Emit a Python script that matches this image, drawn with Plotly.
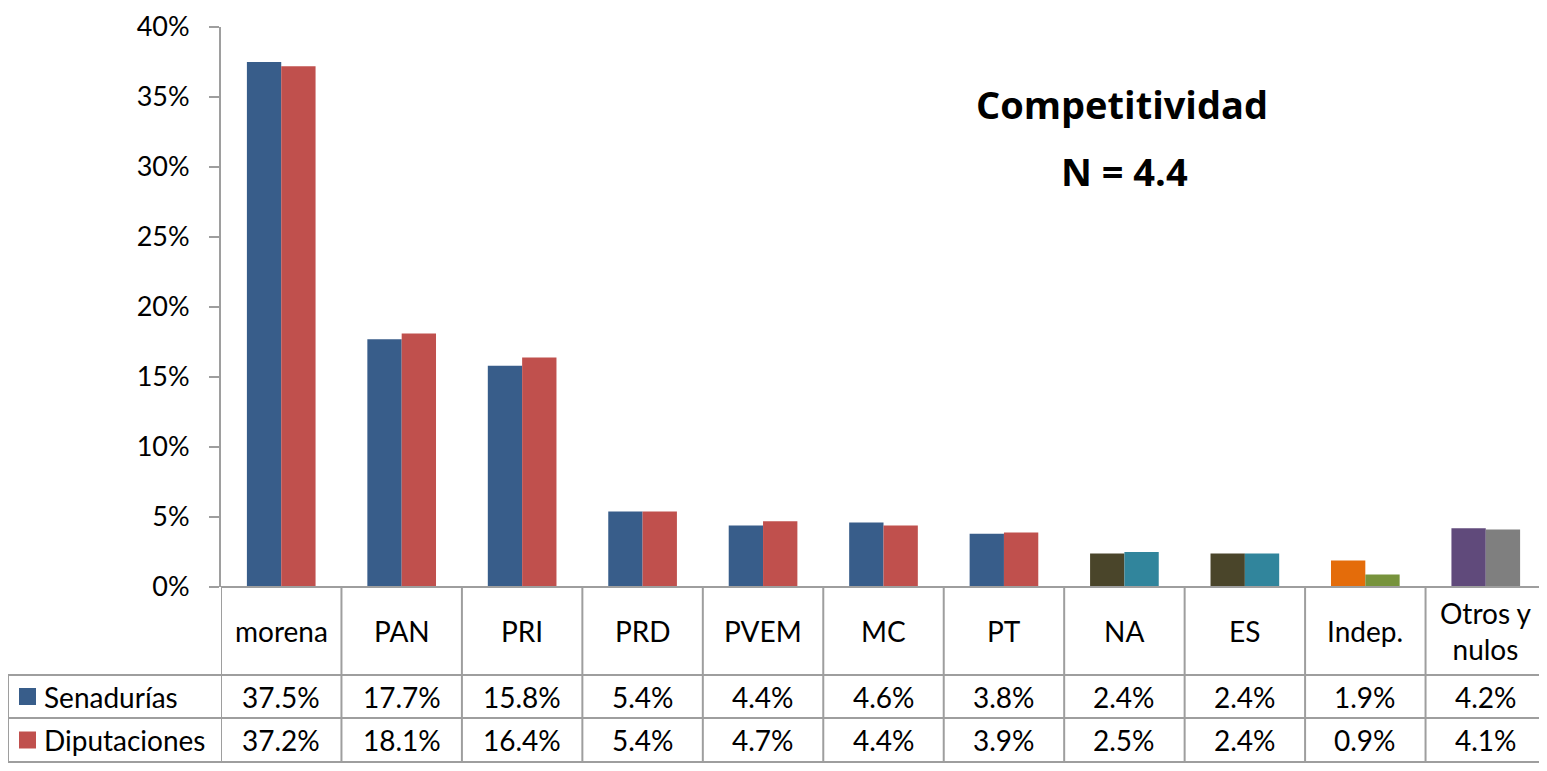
import plotly.graph_objects as go

categories = ["morena", "PAN", "PRI", "PRD", "PVEM", "MC", "PT", "NA", "ES", "Indep.", "Otros y<br>nulos"]
senadurias = [37.5, 17.7, 15.8, 5.4, 4.4, 4.6, 3.8, 2.4, 2.4, 1.9, 4.2]
diputaciones = [37.2, 18.1, 16.4, 5.4, 4.7, 4.4, 3.9, 2.5, 2.4, 0.9, 4.1]
sen_colors = ["#385D8A"] * 7 + ["#4A452A", "#4A452A", "#E46C0A", "#604A7B"]
dip_colors = ["#C0504D"] * 7 + ["#31859C", "#31859C", "#77933C", "#7F7F7F"]
series_names = ["Senadurías", "Diputaciones"]
legend_colors = ["#385D8A", "#C0504D"]
y_ticks = [0, 5, 10, 15, 20, 25, 30, 35, 40]

# page body has an 8px margin; reference pixel coords are converted by OFF
OFF = 8
W, H = 1547 - OFF, 771 - OFF
L, T = 221 - OFF, 27 - OFF
B = H - (587 - OFF)
R = W - (1546 - OFF)
PW, PH = W - L - R, H - T - B

def py(p):
    return (H - B - (p - OFF)) / PH

def px(p):
    return (p - OFF - L) / PW

FONT = "Lato"
FS = 28
GRID = "#9E9E9E"

fig = go.Figure()
idx = list(range(len(categories)))
fig.add_trace(go.Bar(x=idx, y=senadurias, name=series_names[0], marker=dict(color=sen_colors, line=dict(width=0))))
fig.add_trace(go.Bar(x=idx, y=diputaciones, name=series_names[1], marker=dict(color=dip_colors, line=dict(width=0))))

shapes = []
annotations = []
n = len(categories)
for i in range(n + 1):
    shapes.append(dict(type="line", xref="x", yref="paper", x0=i - 0.5, x1=i - 0.5,
                       y0=py(587), y1=py(762), line=dict(color=GRID, width=2)))
shapes.append(dict(type="line", xref="paper", yref="paper", x0=px(8), x1=px(8),
                   y0=py(675), y1=py(762), line=dict(color=GRID, width=2)))
shapes.append(dict(type="line", xref="paper", yref="paper", x0=0, x1=1,
                   y0=0, y1=0, line=dict(color=GRID, width=2)))
for yy in [675, 718, 762]:
    shapes.append(dict(type="line", xref="paper", yref="paper", x0=px(8), x1=1,
                       y0=py(yy), y1=py(yy), line=dict(color=GRID, width=2)))

for i, c in enumerate(categories):
    annotations.append(dict(x=i, xref="x", y=py(631), yref="paper", text=c, showarrow=False,
                            font=dict(family=FONT, size=FS, color="black"), xanchor="center",
                            yanchor="middle"))

row_centers = [696.5, 740]
for r, (vals, name, col) in enumerate(zip([senadurias, diputaciones], series_names, legend_colors)):
    yc = row_centers[r]
    for i, v in enumerate(vals):
        annotations.append(dict(x=i, xref="x", y=py(yc), yref="paper", text=f"{v:.1f}%", showarrow=False,
                                font=dict(family=FONT, size=FS, color="black"), xanchor="center",
                                yanchor="middle"))
    shapes.append(dict(type="rect", xref="paper", yref="paper", x0=px(19), x1=px(36),
                       y0=py(yc + 8.5), y1=py(yc - 8.5), fillcolor=col, line=dict(width=0)))
    annotations.append(dict(x=px(42), xref="paper", y=py(yc), yref="paper", text=name, showarrow=False,
                            font=dict(family=FONT, size=FS, color="black"), xanchor="left",
                            yanchor="middle"))

TFONT = "Open Sans"
annotations.append(dict(x=px(1122), xref="paper", y=py(104), yref="paper", text="<b>Competitividad</b>",
                        showarrow=False, font=dict(family=TFONT, size=38, color="black"),
                        xanchor="center", yanchor="middle"))
annotations.append(dict(x=px(1124), xref="paper", y=py(171), yref="paper", text="<b>N = 4.4</b>",
                        showarrow=False, font=dict(family=TFONT, size=38, color="black"),
                        xanchor="center", yanchor="middle"))

fig.update_layout(
    width=W, height=H,
    margin=dict(l=L, r=R, t=T, b=B, pad=0, autoexpand=False),
    paper_bgcolor="white", plot_bgcolor="white",
    barmode="group", bargap=0.43, bargroupgap=0,
    showlegend=False,
    shapes=shapes, annotations=annotations,
    xaxis=dict(range=[-0.5, n - 0.5], showticklabels=False, showgrid=False, zeroline=False,
               showline=False, ticks=""),
    yaxis=dict(range=[0, 40], tickvals=y_ticks, ticktext=[f"{t}%" for t in y_ticks],
               showgrid=False, zeroline=False, showline=True, linecolor=GRID, linewidth=2,
               ticks="outside", ticklen=10, tickcolor=GRID, tickwidth=2, ticklabelstandoff=14,
               tickfont=dict(family=FONT, size=27, color="black")),
)

fig.write_html("out.html")
